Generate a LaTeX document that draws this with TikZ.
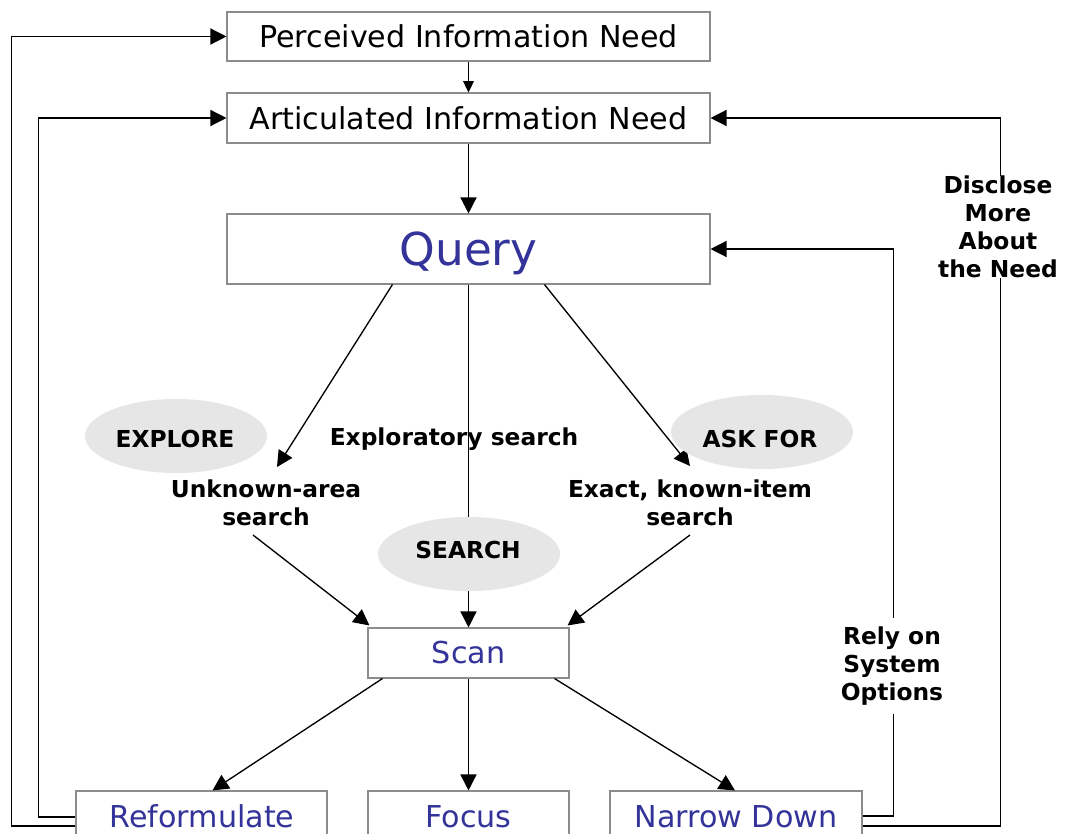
\documentclass[tikz,border=0pt]{standalone}
\usepackage{fontspec}
\setmainfont{DejaVu Sans}
\usetikzlibrary{arrows.meta,calc,shapes.geometric}
\definecolor{qblue}{HTML}{333399}
\definecolor{egray}{HTML}{E6E6E6}
\definecolor{bgray}{HTML}{8C8C8C}
\begin{document}
\begin{tikzpicture}[x=0.75pt,y=-0.75pt,
  box/.style={draw=bgray,line width=0.8pt,inner sep=0pt},
  big/.style={font=\fontsize{22.6}{26}\selectfont},
  bluetxt/.style={text=qblue},
  lbl/.style={font=\bfseries\fontsize{17.5}{21}\selectfont,align=center,inner sep=0pt},
  ell/.style={ellipse,fill=egray,inner sep=0pt,minimum width=136.5pt,minimum height=55.5pt},
  arr/.style={-{Triangle[length=12pt,width=12pt]},line width=1pt},
  sarr/.style={-{Triangle[length=8.5pt,width=8pt]},line width=1pt},
  gap/.style={fill=white,inner sep=0pt},
  btxt/.style={big,bluetxt,anchor=base,inner sep=0pt}]
\clip (0,0) rectangle (1068,834);
\fill[white] (0,0) rectangle (1068,834);
% boxes
\node[box,big,minimum width=362.25pt,minimum height=36.75pt] (P) at (468.5,36.5) {Perceived Information Need};
\node[box,big,minimum width=362.25pt,minimum height=37.5pt] (A) at (468.5,118) {Articulated Information Need};
\node[box,bluetxt,font=\fontsize{34}{40}\selectfont,text depth=0pt,minimum width=362.25pt,minimum height=52.5pt] (Q) at (468.5,249) {Query};
\node[box,big,bluetxt,minimum width=150.75pt,minimum height=37.5pt] (S) at (468.5,653) {Scan};
\node[box,minimum width=188.25pt,minimum height=42pt] (R) at (201.5,819) {};
\node[box,minimum width=150.75pt,minimum height=42pt] (F) at (468.5,819) {};
\node[box,minimum width=189pt,minimum height=42pt] (N) at (736,819) {};
\node[btxt] (Rt) at (202,827) {Reformulate};
\node[btxt] (Ft) at (468.5,827) {Focus};
\node[btxt] (Nt) at (736,827) {Narrow Down};
% main flow
\draw[sarr] (P) -- (A);
\draw[arr] (A) -- (Q);
\coordinate (uk) at (277,467);
\coordinate (ex) at (690,466);
\draw[arr] ($(Q.south west)+(166,0)$) -- (uk);
\draw[arr] (Q.south) -- (S.north);
\draw[arr] ($(Q.south west)+(318,0)$) -- (ex);
% ellipses
\node[ell] (e1) at (176,436) {};
\node[ell] (e2) at (469,554) {};
\node[ell] (e3) at (762,432) {};
\node[lbl] (t1) at (175,439) {EXPLORE};
\node[lbl] (t2) at (468,550) {SEARCH};
\node[lbl] (t3) at (760,439) {ASK FOR};
\node[lbl] (t4) at (454,439) {Exploratory search};
\node[lbl] (UK) at (266,503) {Unknown-area\\search};
\node[lbl] (EX) at (690,503) {Exact, known-item\\search};
\coordinate (uk2) at (253,535);
\coordinate (ex2) at (690,535);
\draw[arr] (uk2) -- ($(S.north west)+(2,-2)$);
\draw[arr] (ex2) -- ($(S.north east)+(-2,-2)$);
% from scan
\draw[arr] ($(S.south west)+(15,0)$) -- ($(R.north)+(11,0)$);
\draw[arr] (S.south) -- (F.north);
\draw[arr] ($(S.south east)+(-15,0)$) -- ($(N.north)+(-1,0)$);
% feedback loops
\draw[arr] ($(R.west)+(0,7)$) -| ($(P.west)+(-215,0)$) -- (P.west);
\draw[arr] ($(R.west)+(0,-2)$) -| ($(A.west)+(-188,0)$) -- (A.west);
\draw[arr] ($(N.east)+(0,-3)$) -| ($(Q.east)+(183,0)$) -- (Q.east);
\draw[arr] ($(N.east)+(0,7)$) -| ($(A.east)+(290,0)$) -- (A.east);
\node[lbl,gap,minimum height=72pt] (L1) at (998,227) {Disclose\\More\\About\\the Need};
\node[lbl,gap,minimum height=72pt] (L2) at (892,666) {Rely on\\System\\Options};
\end{tikzpicture}
\end{document}
